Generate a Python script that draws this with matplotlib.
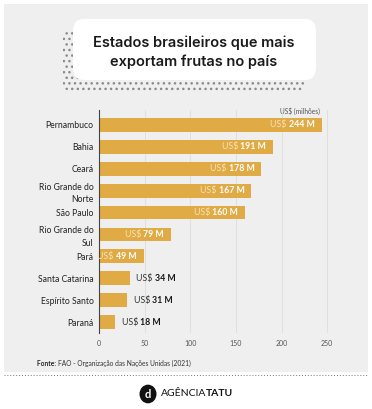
import matplotlib.pyplot as plt
from matplotlib.patches import FancyBboxPatch, Rectangle, Circle
from matplotlib.lines import Line2D

states = ['Pernambuco', 'Bahia', 'Ceará', 'Rio Grande do\nNorte', 'São Paulo',
          'Rio Grande do\nSul', 'Pará', 'Santa Catarina', 'Espírito Santo', 'Paraná']
values = [244, 191, 178, 167, 160, 79, 49, 34, 31, 18]
xticks = [0, 50, 100, 150, 200, 250]

W, H = 372, 409
bar_color = '#e0aa45'
font = 'Lato'

fig = plt.figure(figsize=(W / 100, H / 100), dpi=100)
fig.patch.set_facecolor('white')

def px(x, y):
    return x / W, 1 - y / H

# gray panel
fig.patches.append(Rectangle(px(4, 372), 364 / W, 368 / H, transform=fig.transFigure,
                             facecolor='#efefef', edgecolor='none', zorder=-2))

# title box with dotted shadow
shadow = FancyBboxPatch(px(63, 91), 242 / W, 60 / H, boxstyle='round,pad=0,rounding_size=0.02',
                        transform=fig.transFigure, facecolor='none', edgecolor='#8a8a8a',
                        hatch='...', linewidth=0, zorder=-1)
fig.patches.append(shadow)
box = FancyBboxPatch(px(73, 80), 243 / W, 61 / H, boxstyle='round,pad=0,rounding_size=0.03',
                     transform=fig.transFigure, facecolor='white', edgecolor='none', zorder=-1)
fig.patches.append(box)
fig.text(*px(194, 43), 'Estados brasileiros que mais', ha='center', va='center',
         fontsize=10.5, fontweight='semibold', family='Inter', color='#1a1a1a')
fig.text(*px(194, 62), 'exportam frutas no país', ha='center', va='center',
         fontsize=10.5, fontweight='semibold', family='Inter', color='#1a1a1a')

# chart
ax = fig.add_axes([99 / W, 1 - 333 / H, 240 / W, 223 / H])
ax.set_zorder(5)
ax.set_facecolor('none')
ypos = list(range(len(states)))
ax.barh(ypos, values, height=0.63, color=bar_color, zorder=2)
ax.set_xlim(0, 263)
ax.set_ylim(9.5, -0.68)
ax.set_yticks(ypos)
ax.set_yticklabels(states, fontsize=6.2, family=font, color='#222222', linespacing=1.45)
ax.set_xticks(xticks)
ax.set_xticklabels([str(t) for t in xticks], fontsize=5, family=font, color='#555555')
ax.tick_params(length=0, pad=4)
ax.tick_params(axis='x', pad=5)
ax.grid(axis='x', color='#dddddd', linewidth=0.6, zorder=0)
for s in ['top', 'right', 'bottom']:
    ax.spines[s].set_visible(False)
ax.spines['left'].set_color('#444444')
ax.spines['left'].set_linewidth(0.8)
ax.spines['left'].set_zorder(3)

for y, v in zip(ypos, values):
    if v > 45:
        t = ax.annotate(f'{v} M', xy=(v, y), xytext=(-5, 0), textcoords='offset points',
                        ha='right', va='center', fontsize=6.3, fontweight='bold',
                        family=font, color='white', zorder=4)
        ax.annotate('US$ ', xy=(0, 0.5), xycoords=t, ha='right', va='center',
                    fontsize=6.3, family=font, color='#f7e3b8', zorder=4)
    else:
        t = ax.annotate('US$ ', xy=(v, y), xytext=(4.5, 0), textcoords='offset points',
                        ha='left', va='center', fontsize=6.3, family=font,
                        color='#333333', zorder=4)
        ax.annotate(f'{v} M', xy=(1, 0.5), xycoords=t, ha='left', va='center',
                    fontsize=6.3, fontweight='bold', family=font, color='#1a1a1a', zorder=4)

fig.text(*px(320, 111), 'US$ (milhões)', ha='right', va='center', fontsize=4.8,
         family=font, color='#555555')

src = fig.text(*px(37, 363), 'Fonte: ', ha='left', va='center', fontsize=4.8,
               fontweight='bold', family=font, color='#222222')
fig.add_artist(plt.Annotation('FAO - Organização das Nações Unidas (2021)', xy=(1, 0.5),
                              xycoords=src, ha='left', va='center', fontsize=4.8,
                              family=font, color='#333333'))

# dotted separator
fig.add_artist(Line2D([4 / W, 368 / W], [1 - 375 / H] * 2, transform=fig.transFigure,
                      color='#777777', linestyle=(0, (1, 2)), linewidth=0.7))

# logo
fig.add_artist(Circle(px(148, 394), 8.5 / W, transform=fig.transFigure,
                      facecolor='#111111', edgecolor='none'))
fig.text(*px(148, 394), 'd', ha='center', va='center', fontsize=8, fontweight='bold',
         family=font, color='white')
lg = fig.text(*px(161, 394), 'AGÊNCIA', ha='left', va='center', fontsize=7.5,
              family=font, color='#111111')
fig.add_artist(plt.Annotation('TATU', xy=(1, 0.5), xycoords=lg, ha='left', va='center',
                              fontsize=7.5, fontweight='bold', family=font, color='#111111'))

fig.savefig('out.png', dpi=100)
